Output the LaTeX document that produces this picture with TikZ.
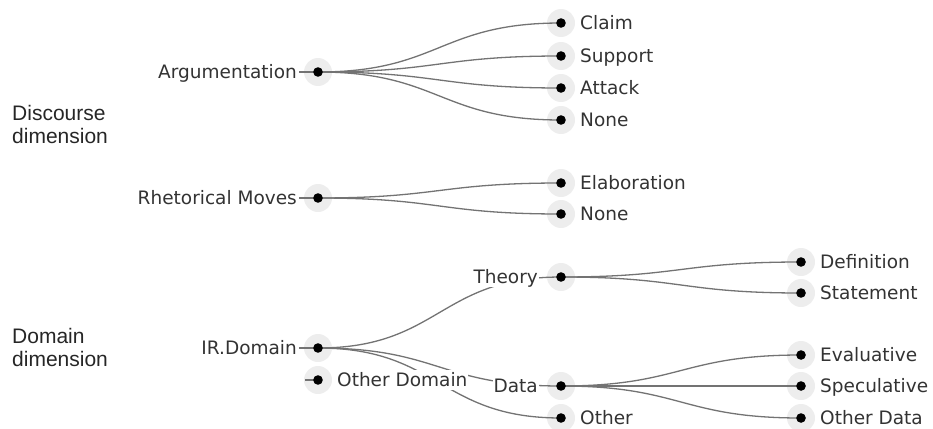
\documentclass[tikz,border=0pt]{standalone}
\usepackage{fontspec}
\setmainfont{DejaVu Sans}
\newfontfamily\dimfont{Liberation Sans}
\usetikzlibrary{calc}

\tikzset{
  halo/.style={fill=black!7},
  dot/.style={fill=black},
  link/.style={draw=black!55,line width=1.3pt,
    to path={let \p1=(\tikztostart),\p2=(\tikztotarget) in
      .. controls ({(\x1+\x2)/2},\y1) and ({(\x1+\x2)/2},\y2) .. (\tikztotarget)}},
  lbl/.style={fill=white,text=black!80,inner xsep=1pt,inner ysep=3pt,
    text height=13.5pt,text depth=0pt,font=\fontsize{18.5}{20}\selectfont},
  dimlbl/.style={align=left,inner sep=0pt,text=black!85,
    font=\dimfont\fontsize{21}{23}\selectfont},
}

\begin{document}
\begin{tikzpicture}[x=1pt,y=-1pt,line join=round]
  \useasboundingbox (0,0) rectangle (933,428);
  \foreach \x/\y/\z in {318/72/arg,318/198/rhet,318/348/ird,318/380/othd,
    561/23/claim,561/56/supp,561/88/att,561/120/none,561/183/elab,561/214/none2,
    561/277/theo,561/386/data,561/418/oth,
    801/262/defi,801/293/stat,801/355/eval,801/386/spec,801/418/othdata}{
      \path (\x,\y) coordinate (\z) (\x-19,\y) coordinate (\z-in);
  }
  \coordinate (othd-in) at (305,380);
  % halos
  \foreach \z in {arg,rhet,ird,othd,claim,supp,att,none,elab,none2,theo,data,oth,
    defi,stat,eval,spec,othdata}{
      \fill[halo] (\z) circle (14);
  }
  % links
  \foreach \a/\b in {arg/claim,arg/supp,arg/att,arg/none,rhet/elab,rhet/none2,
    ird/theo,ird/data,ird/oth,theo/defi,theo/stat,data/eval,data/spec,data/othdata}{
      \draw[link] (\a) to (\b);
  }
  \foreach \z in {arg,rhet,ird,othd}{
      \draw[link] (\z-in) -- (\z);
  }
  % labels
  \foreach \z/\t/\d in {arg/Argumentation/20,rhet/Rhetorical Moves/20,ird/IR.Domain/20,
    theo/Theory/22,data/Data/22}{
      \node[lbl,anchor=east] (\z-lbl) at ($(\z)+(-\d,0)$) {\t};
  }
  \foreach \z/\t in {claim/Claim,supp/Support,att/Attack,none/None,elab/Elaboration,
    none2/None,oth/Other,othd/Other Domain,defi/Definition,stat/Statement,
    eval/Evaluative,spec/Speculative,othdata/Other Data}{
      \node[lbl,anchor=west] (\z-lbl) at ($(\z)+(18,0)$) {\t};
  }
  % dots
  \foreach \z in {arg,rhet,ird,othd,claim,supp,att,none,elab,none2,theo,data,oth,
    defi,stat,eval,spec,othdata}{
      \fill[dot] (\z) circle (4.8);
  }
  \node[dimlbl,anchor=north west] (disc) at (12,105) {Discourse\\dimension};
  \node[dimlbl,anchor=north west] (dom) at (12,328) {Domain\\dimension};
\end{tikzpicture}
\end{document}
